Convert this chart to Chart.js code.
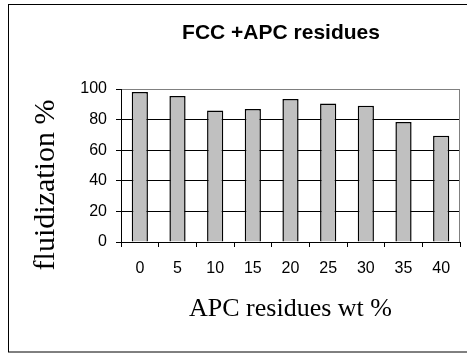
<!DOCTYPE html>
<html>
<head>
<meta charset="utf-8">
<script src="https://cdn.jsdelivr.net/npm/chart.js@4"></script>
<style>
html, body { margin: 0; padding: 0; background: #fff; }
</style>
</head>
<body>
<canvas id="myChart" width="467" height="354"></canvas>
<script>
// data
const categories = ["0", "5", "10", "15", "20", "25", "30", "35", "40"];
const fluidization = [98, 95.5, 86, 87, 93.5, 90.5, 89, 78.5, 69.5];
const yMin = 0;
const yMax = 100;
const yStep = 20;

const chartTitle = "FCC +APC residues";
const xTitle = "APC residues wt %";
const yTitle = "fluidization %";

const sans = "Arial, 'Liberation Sans', sans-serif";
const serif = "'Times New Roman', 'Liberation Serif', serif";

// frame, plot border, chart title and y title
const extras = {
	id: 'extras',
	beforeDraw(chart) {
		const ctx = chart.ctx;
		ctx.save();
		ctx.strokeStyle = '#000';
		ctx.lineWidth = 1;
		ctx.strokeRect(8.5, 4.5, 480, 347.5);
		ctx.restore();
	},
	afterDraw(chart) {
		const ctx = chart.ctx;
		const area = chart.chartArea;
		ctx.save();
		ctx.strokeStyle = '#808080';
		ctx.lineWidth = 1;
		ctx.beginPath();
		ctx.moveTo(Math.round(area.right) - 0.5, area.top);
		ctx.lineTo(Math.round(area.right) - 0.5, area.bottom);
		ctx.stroke();

		ctx.fillStyle = '#000';
		ctx.textAlign = 'center';
		ctx.textBaseline = 'middle';
		ctx.font = "bold 21px " + sans;
		ctx.fillText(chartTitle, 281, 33);

		ctx.translate(46, 185);
		ctx.rotate(-Math.PI / 2);
		ctx.font = "30px " + serif;
		ctx.fillText(yTitle, 0, 0);
		ctx.restore();
	}
};

const myChart = document.getElementById("myChart");

let barchart = new Chart(myChart, {
	type: 'bar',
	data: {
		labels: categories,
		datasets: [{
			label: 'fluidization',
			data: fluidization,
			backgroundColor: '#c0c0c0',
			borderColor: '#000',
			borderWidth: 1.5,
			barPercentage: 0.43,
			categoryPercentage: 1
		}]
	},
	options: {
		responsive: false,
		animation: false,
		layout: {
			padding: {left: 9, right: 7, top: 89, bottom: 4}
		},
		plugins: {
			legend: {display: false},
			title: {display: false},
			tooltip: {enabled: false}
		},
		scales: {
			x: {
				afterFit: (scale) => { scale.height = 354 - 4 - 242; },
				grid: {
					offset: true,
					drawOnChartArea: false,
					tickLength: 5,
					color: '#000'
				},
				border: {color: '#000', width: 1},
				ticks: {
					color: '#000',
					padding: 12,
					font: {family: sans, size: 16}
				},
				title: {
					display: true,
					text: xTitle,
					color: '#000',
					font: {family: serif, size: 26},
					padding: {top: 0, bottom: 25}
				}
			},
			y: {
				min: yMin,
				max: yMax,
				afterFit: (scale) => { scale.width = 121 - 9; },
				grid: {
					color: (c) => c.tick && c.tick.value === yMax ? '#808080' : '#000',
					tickColor: '#000',
					tickLength: 5
				},
				border: {color: '#000', width: 1},
				ticks: {
					stepSize: yStep,
					color: '#000',
					padding: 9,
					font: {family: sans, size: 16}
				}
			}
		}
	},
	plugins: [extras]
});
</script>
</body>
</html>
